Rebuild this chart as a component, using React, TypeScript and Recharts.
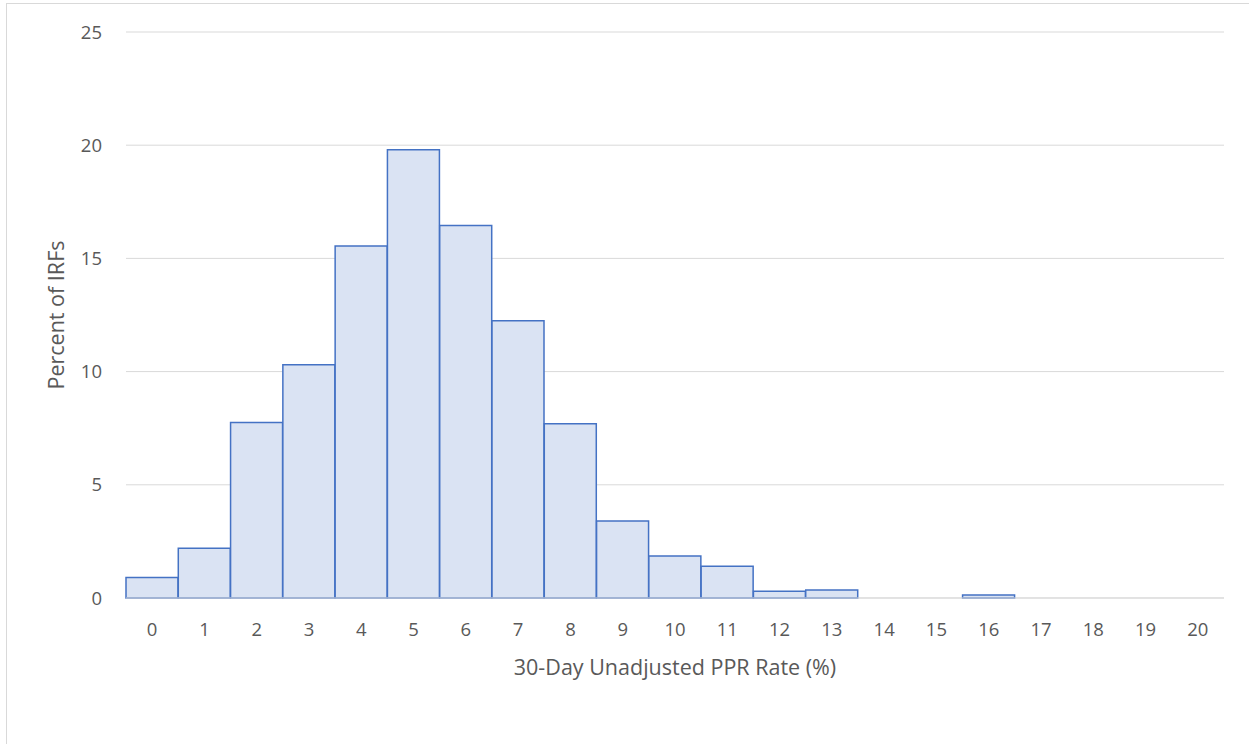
// histogram of 30-day unadjusted PPR rates across IRFs
import { Bar, BarChart, CartesianGrid, XAxis, YAxis } from "recharts";

const rates = ["0", "1", "2", "3", "4", "5", "6", "7", "8", "9", "10", "11", "12", "13", "14", "15", "16", "17", "18", "19", "20"];
const percentOfIrfs = [0.9, 2.2, 7.75, 10.3, 15.55, 19.8, 16.45, 12.25, 7.7, 3.4, 1.85, 1.4, 0.3, 0.35, 0, 0, 0.13, 0, 0, 0, 0];
const yTicks = [0, 5, 10, 15, 20, 25];

const data = rates.map((rate, i) => ({ rate, pct: percentOfIrfs[i] }));

const font = "'Open Sans', sans-serif";
const textColor = "#595959";

export default function App() {
  return (
    <div style={{ position: "absolute", left: 0, top: 0, width: 1249, height: 744, overflow: "hidden", background: "#fff" }}>
      <div style={{ position: "absolute", left: 6, top: 3, width: 1300, height: 800, border: "1px solid #d9d9d9" }} />
      <div style={{ position: "absolute", left: 0, top: 0 }}>
        <BarChart
          width={1249}
          height={744}
          data={data}
          barCategoryGap={0}
          margin={{ top: 32, right: 25, bottom: 66, left: 0 }}
          style={{ fontFamily: font }}
        >
          <CartesianGrid vertical={false} stroke="#d9d9d9" strokeWidth={1} />
          <XAxis
            dataKey="rate"
            height={80}
            tickSize={0}
            tickMargin={25}
            tickLine={false}
            axisLine={{ stroke: "#d9d9d9" }}
            interval={0}
            tick={{ fill: textColor, fontSize: 18.5 }}
            label={{ value: "30-Day Unadjusted PPR Rate (%)", position: "insideBottom", offset: 3, fill: textColor, fontSize: 21.5 }}
          />
          <YAxis
            width={126}
            domain={[0, 25]}
            ticks={yTicks}
            tickSize={0}
            tickMargin={24}
            tickLine={false}
            axisLine={false}
            tick={{ fill: textColor, fontSize: 18.5 }}
            label={{ value: "Percent of IRFs", angle: -90, position: "center", dx: -7, fill: textColor, fontSize: 21.5 }}
          />
          <Bar dataKey="pct" fill="#dae3f3" stroke="#4472c4" strokeWidth={1.5} isAnimationActive={false} />
        </BarChart>
      </div>
    </div>
  );
}
